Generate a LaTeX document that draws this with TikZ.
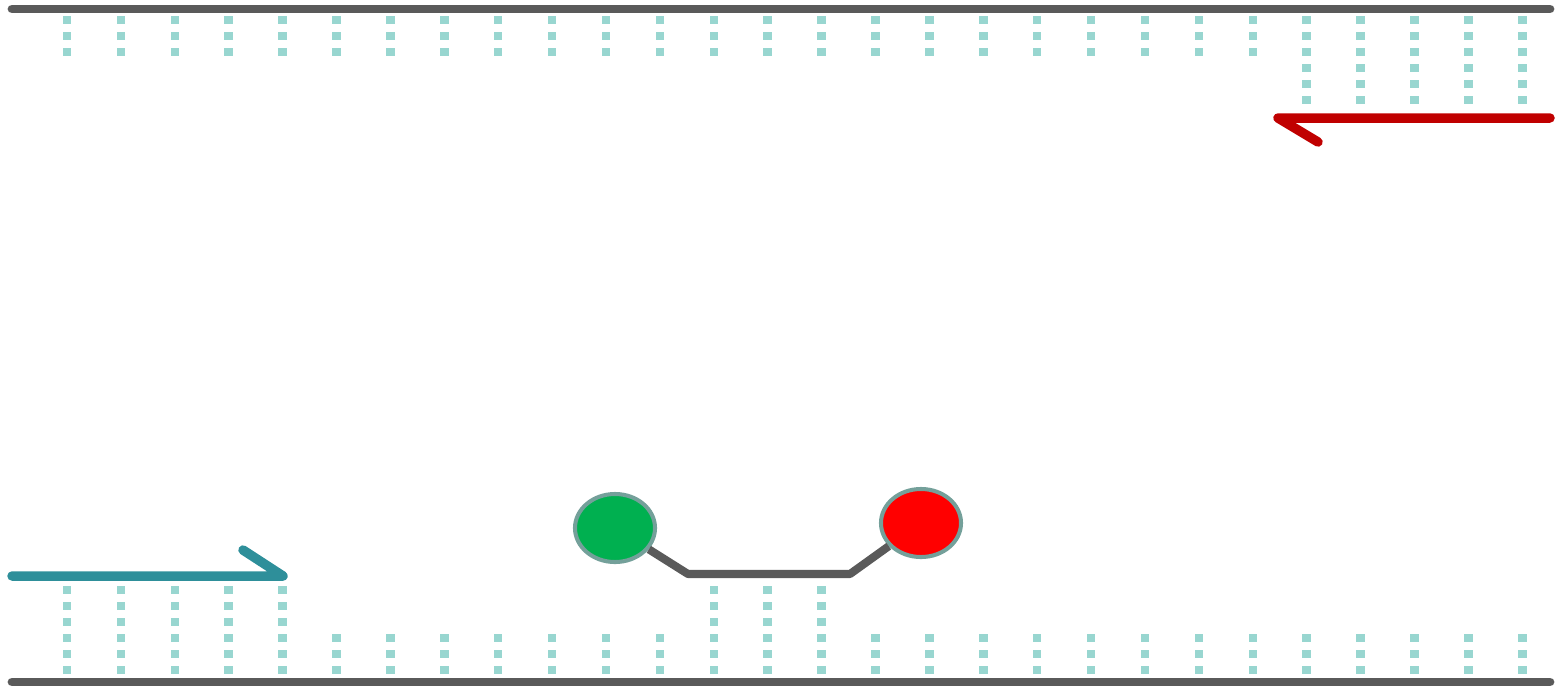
\documentclass[tikz,border=0pt]{standalone}
\usepackage{tikz}
\usepackage{xcolor}
\usetikzlibrary{shapes.geometric}

\definecolor{railgray}{HTML}{5A5A5A}
\definecolor{tiemint}{HTML}{98D6D0}
\definecolor{arrowred}{HTML}{C00000}
\definecolor{arrowteal}{HTML}{2E8F9A}
\definecolor{lampgreen}{HTML}{00B050}
\definecolor{lampred}{HTML}{FF0000}
\definecolor{lamprim}{HTML}{74A09A}

\tikzset{
  rail/.style={railgray, line width=2.5pt, line cap=round},
  ties/.style={tiemint, line width=2.4pt, dash pattern=on 2.35pt off 2.2pt},
  flow/.style={line width=2.7pt, line cap=round, line join=round},
  lamp/.style={ellipse, draw=lamprim, line width=1.15pt, minimum width=0.8cm, minimum height=0.68cm, inner sep=0pt},
  link/.style={railgray, line width=2.3pt, line join=round}
}

\begin{document}
\begin{tikzpicture}[x=0.01cm, y=-0.01cm]
	\useasboundingbox (0,0) rectangle (1560,687);
	% rails
	\draw[rail] (12,9) -- (1550,9);
	\draw[rail] (12,682) -- (1550,682);
	% top ties
	\foreach \i in {0,...,22}
		\draw[ties] (67+53.9*\i,16) -- (67+53.9*\i,56);
	\foreach \i in {23,...,27}
		\draw[ties] (67+53.9*\i,16) -- (67+53.9*\i,104);
	% bottom ties
	\foreach \i in {0,...,4,12,13,14}
		\draw[ties] (67+53.9*\i,586) -- (67+53.9*\i,674);
	\foreach \i in {5,...,11,15,16,...,27}
		\draw[ties] (67+53.9*\i,634) -- (67+53.9*\i,674);
	% arrows
	\draw[flow, arrowred] (1550,118) -- (1278,118) -- (1318,142);
	\draw[flow, arrowteal] (12,576) -- (283,576) -- (243,550);
	% lamps
	\coordinate (bendL) at (688,574);
	\coordinate (bendR) at (850,574);
	\node[lamp, fill=lampgreen] (go) at (615,528) {};
	\node[lamp, fill=lampred] (stop) at (921,523) {};
	\draw[link] (go) -- (bendL) -- (bendR) -- (stop);
\end{tikzpicture}
\end{document}
